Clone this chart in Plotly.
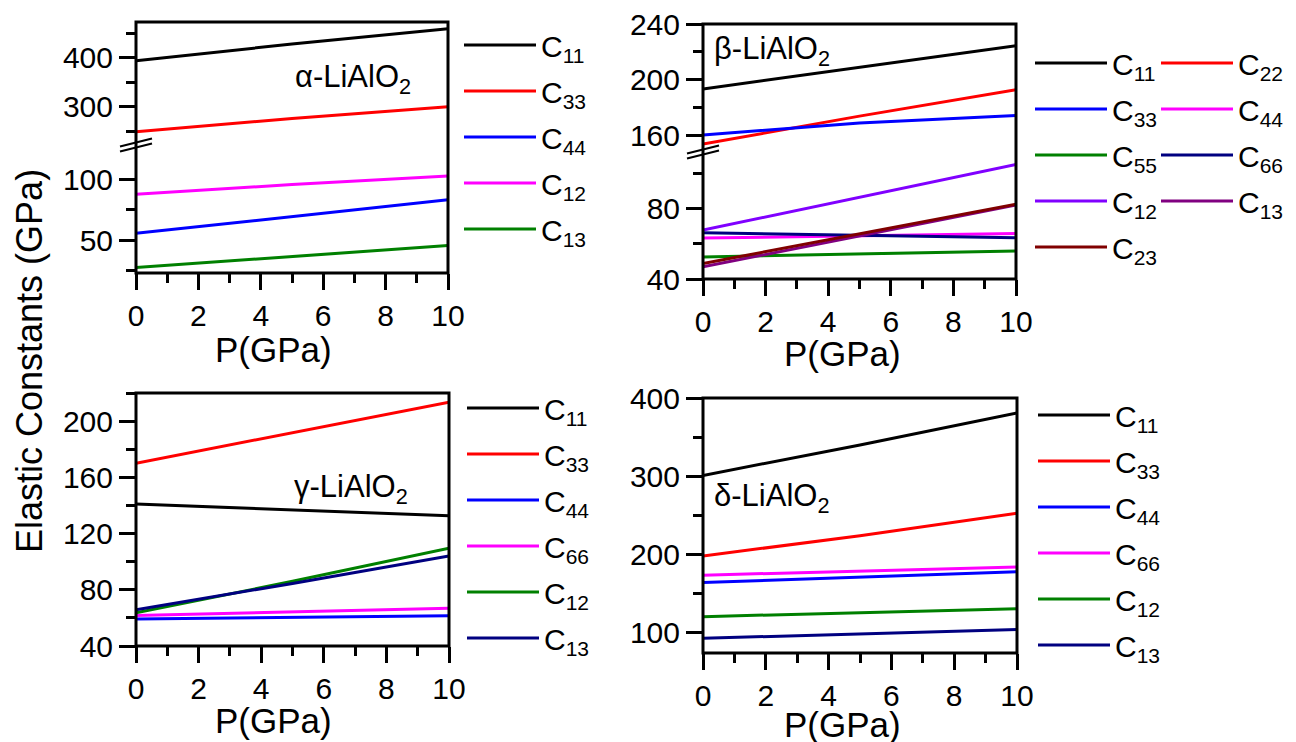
import plotly.graph_objects as go

W, H = 1296, 742
FONT = "Liberation Sans, Arial, Helvetica, sans-serif"

# ---------------- data ----------------
P = [0, 5, 10]

# alpha-LiAlO2
alpha_C11 = [394, 428, 459]
alpha_C33 = [249, 276, 300]
alpha_C44 = [55.5, 69.5, 83]
alpha_C12 = [87.5, 95.5, 102.5]
alpha_C13 = [27.5, 36.5, 45.5]

# beta-LiAlO2
beta_C11 = [193.5, 209, 224.5]
beta_C22 = [154, 174, 193]
beta_C33 = [160.5, 169, 174.5]
beta_C44 = [63.2, 64.5, 65.8]
beta_C55 = [52.5, 54.3, 55.9]
beta_C66 = [66.2, 65.0, 63.4]
beta_C12 = [67.7, 86.5, 105]
beta_C13 = [46.9, 64.5, 81.9]
beta_C23 = [48.8, 65.5, 82.4]

# gamma-LiAlO2
gamma_C11 = [141, 137, 132.6]
gamma_C33 = [170, 192, 213.5]
gamma_C44 = [59.2, 60.3, 61.5]
gamma_C66 = [61.7, 64.3, 66.8]
gamma_C12 = [63.6, 86, 109.6]
gamma_C13 = [65.8, 84.5, 104]

# delta-LiAlO2
delta_C11 = [301, 340, 381]
delta_C33 = [198, 224, 252.6]
delta_C44 = [164, 171, 177.8]
delta_C66 = [173.5, 179, 184]
delta_C12 = [120.5, 125.5, 130.5]
delta_C13 = [92.8, 98.5, 104]

# ---------------- styling ----------------
COL = {
    "black": "#000000", "red": "#FF0000", "blue": "#0000FF",
    "magenta": "#FF00FF", "green": "#008000", "navy": "#000080",
    "violet": "#8000FF", "purple": "#800080", "darkred": "#800000",
}


def fx(px):
    return px / W


def fy(py):
    return 1 - py / H


fig = go.Figure()


def add(name, vals, color, xa, ya, legend):
    fig.add_trace(go.Scatter(
        x=P, y=vals, mode="lines", name="C<sub>%s</sub>" % name,
        line=dict(color=COL[color], width=3), xaxis=xa, yaxis=ya,
        legend=legend, legendgroup=legend + name, hoverinfo="skip"))


# alpha panel: y2 = upper segment, y = lower segment
add("11", alpha_C11, "black", "x", "y2", "legend")
add("33", alpha_C33, "red", "x", "y2", "legend")
add("44", alpha_C44, "blue", "x", "y", "legend")
add("12", alpha_C12, "magenta", "x", "y", "legend")
add("13", alpha_C13, "green", "x", "y", "legend")

# beta panel: y4 = upper, y3 = lower ; two legend columns
add("11", beta_C11, "black", "x2", "y4", "legend2")
add("22", beta_C22, "red", "x2", "y4", "legend3")
add("33", beta_C33, "blue", "x2", "y4", "legend2")
add("44", beta_C44, "magenta", "x2", "y3", "legend3")
add("55", beta_C55, "green", "x2", "y3", "legend2")
add("66", beta_C66, "navy", "x2", "y3", "legend3")
add("12", beta_C12, "violet", "x2", "y3", "legend2")
add("13", beta_C13, "purple", "x2", "y3", "legend3")
add("23", beta_C23, "darkred", "x2", "y3", "legend2")

# gamma panel
add("11", gamma_C11, "black", "x3", "y5", "legend4")
add("33", gamma_C33, "red", "x3", "y5", "legend4")
add("44", gamma_C44, "blue", "x3", "y5", "legend4")
add("66", gamma_C66, "magenta", "x3", "y5", "legend4")
add("12", gamma_C12, "green", "x3", "y5", "legend4")
add("13", gamma_C13, "navy", "x3", "y5", "legend4")

# delta panel
add("11", delta_C11, "black", "x4", "y6", "legend5")
add("33", delta_C33, "red", "x4", "y6", "legend5")
add("44", delta_C44, "blue", "x4", "y6", "legend5")
add("66", delta_C66, "magenta", "x4", "y6", "legend5")
add("12", delta_C12, "green", "x4", "y6", "legend5")
add("13", delta_C13, "navy", "x4", "y6", "legend5")

TICKFONT = dict(size=30, family=FONT, color="black")


def yax(top, bot, rng, major, minor, anchor):
    return dict(
        domain=[fy(bot), fy(top)], range=rng, anchor=anchor, automargin=False,
        tickmode="array", tickvals=major, ticks="outside", ticklen=16,
        tickwidth=3, tickcolor="black", tickfont=TICKFONT,
        minor=dict(tickmode="array", tickvals=minor, ticks="outside",
                   ticklen=9, tickwidth=3, tickcolor="black", showgrid=False),
        showline=False, showgrid=False, zeroline=False, fixedrange=True)


def xax(left, right, anchor):
    return dict(
        domain=[fx(left), fx(right)], range=[0, 10], anchor=anchor, automargin=False,
        tickmode="array", tickvals=[0, 2, 4, 6, 8, 10], ticks="outside",
        ticklen=16, tickwidth=3, tickcolor="black", tickfont=TICKFONT,
        minor=dict(tickmode="array", tickvals=[1, 3, 5, 7, 9], ticks="outside",
                   ticklen=9, tickwidth=3, tickcolor="black", showgrid=False),
        showline=False, showgrid=False, zeroline=False, fixedrange=True)


# panel frames (pixel boxes) and axis-break positions
A = dict(l=136, r=448, t=22, b=273, brk=145)
B = dict(l=703, r=1016, t=24, b=279, brk=152)
G = dict(l=136, r=449, t=393, b=646)
D = dict(l=703, r=1017, t=398, b=653)

fig.update_layout(
    xaxis=xax(A["l"], A["r"], "y"),
    yaxis=yax(A["brk"], A["b"], [23, 128], [50, 100], [25, 75], "x"),
    yaxis2=yax(A["t"], A["brk"], [222, 473], [300, 400], [250, 350, 450], "x"),
    xaxis2=xax(B["l"], B["r"], "y3"),
    yaxis3=yax(B["brk"], B["b"], [40, 112], [40, 80], [60, 100], "x2"),
    yaxis4=yax(B["t"], B["brk"], [148.3, 240], [160, 200, 240], [180, 220], "x2"),
    xaxis3=xax(G["l"], G["r"], "y5"),
    yaxis5=yax(G["t"], G["b"], [40, 220], [40, 80, 120, 160, 200], [60, 100, 140, 180, 220], "x3"),
    xaxis4=xax(D["l"], D["r"], "y6"),
    yaxis6=yax(D["t"], D["b"], [74, 400], [100, 200, 300, 400], [150, 250, 350], "x4"),
)

shapes = []
for p in (A, B, G, D):
    shapes.append(dict(type="rect", xref="paper", yref="paper", layer="above",
                       x0=fx(p["l"]), x1=fx(p["r"]), y0=fy(p["b"]), y1=fy(p["t"]),
                       line=dict(color="black", width=3), fillcolor="rgba(0,0,0,0)"))
# axis-break marks on the left axes
for p in (A, B):
    for off in (-2.5, 2.5):
        yc = p["brk"] + off
        shapes.append(dict(type="line", xref="paper", yref="paper", layer="above",
                           x0=fx(p["l"] - 16), y0=fy(yc + 4),
                           x1=fx(p["l"] + 16), y1=fy(yc - 4),
                           line=dict(color="black", width=2)))
fig.update_layout(shapes=shapes)

ann = []
LAB = dict(size=31, family=FONT, color="black")
for txt, x, y in [("α-LiAlO<sub>2</sub>", 293, 79), ("β-LiAlO<sub>2</sub>", 712, 51),
                  ("γ-LiAlO<sub>2</sub>", 292, 489), ("δ-LiAlO<sub>2</sub>", 712, 498)]:
    ann.append(dict(text=txt, x=fx(x), y=fy(y), xref="paper", yref="paper",
                    xanchor="left", yanchor="middle", showarrow=False, font=LAB))
TITLE = dict(size=35, family=FONT, color="black")
for x, y in [(273, 349), (843, 353), (273, 720), (843, 724)]:
    ann.append(dict(text="P(GPa)", x=fx(x), y=fy(y), xref="paper", yref="paper",
                    xanchor="center", yanchor="middle", showarrow=False, font=TITLE))
ann.append(dict(text="Elastic Constants (GPa)", x=fx(29), y=fy(361), xref="paper",
                yref="paper", textangle=-90, xanchor="center", yanchor="middle",
                showarrow=False, font=dict(size=36, family=FONT, color="black")))
fig.update_layout(annotations=ann)


def leg(x, y):
    return dict(x=fx(x), y=fy(y), xanchor="left", yanchor="top",
                bgcolor="rgba(0,0,0,0)", borderwidth=0, itemwidth=72,
                tracegroupgap=4, font=dict(size=30, family=FONT, color="black"),
                itemclick=False, itemdoubleclick=False)


fig.update_layout(
    legend=leg(459, 19),
    legend2=leg(1030, 37),
    legend3=leg(1156, 37),
    legend4=leg(462, 382),
    legend5=leg(1033, 389),
    width=W, height=H, autosize=False,
    margin=dict(l=0, r=0, t=0, b=0, pad=0),
    paper_bgcolor="white", plot_bgcolor="white",
    font=dict(family=FONT, color="black"),
    showlegend=True,
)

fig.write_html("out.html", config={"displayModeBar": False})
